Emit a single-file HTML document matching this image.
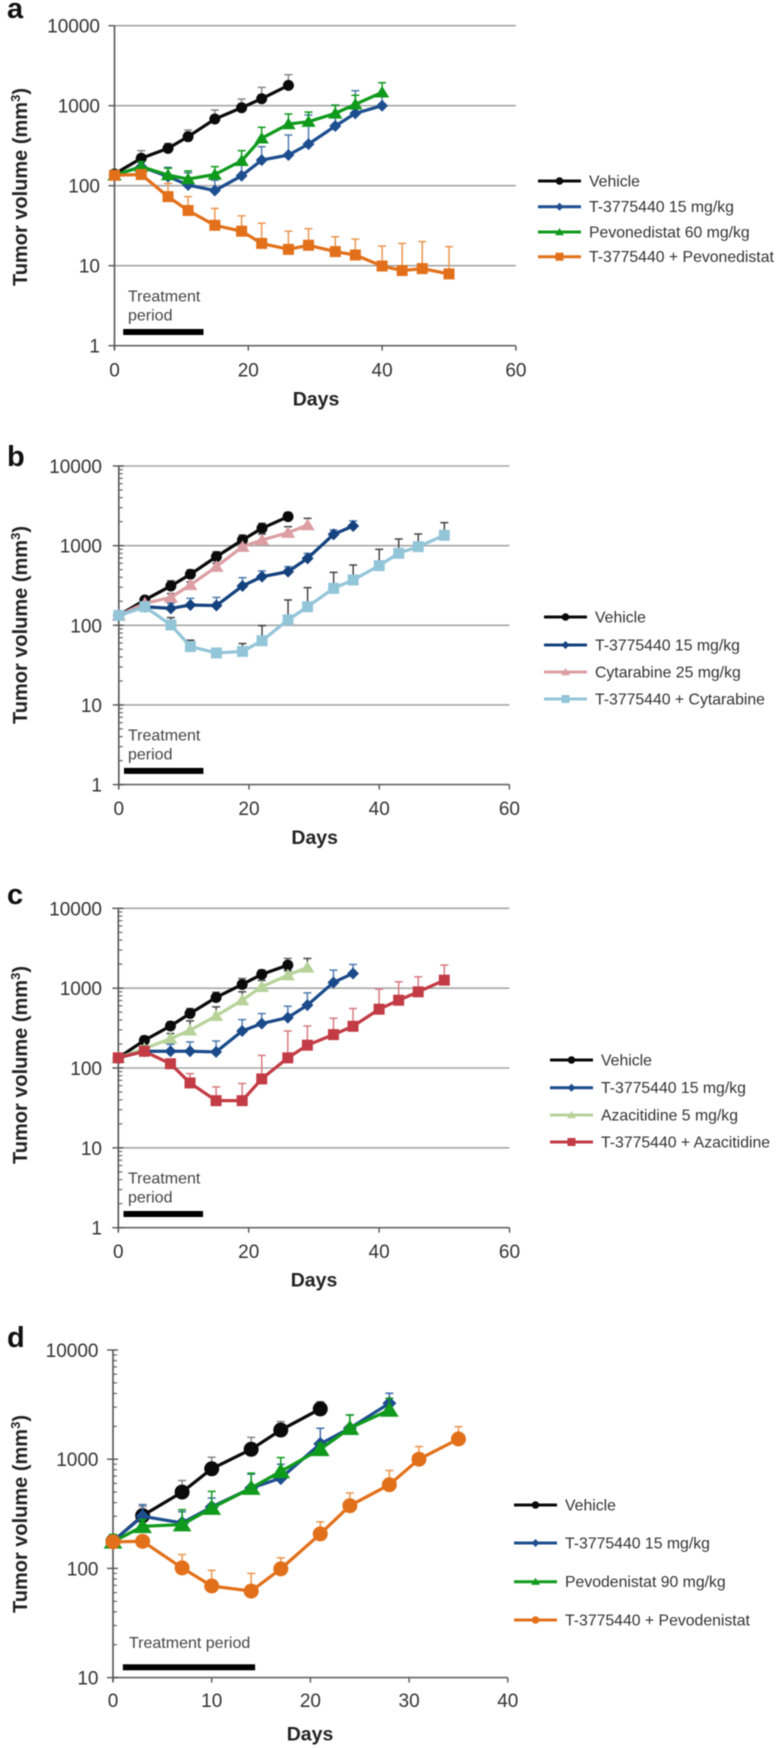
<!DOCTYPE html>
<html lang="en">
<head>
<meta charset="utf-8">
<title>Tumor volume charts</title>
<style>
html,body{margin:0;padding:0;background:#fff;}
#figure{display:block;width:777px;height:1748px;filter:blur(0.55px);font-family:"Liberation Sans",Arial,sans-serif;}
</style>
</head>
<body>
<svg id="figure" xmlns="http://www.w3.org/2000/svg" width="777" height="1748" viewBox="0 0 777 1748"></svg>
<script>
// Panel a data
const daysA = [0,4,8,11,15,19,22,26,29,33,36,40,43,46,50];
const vehicleA = [140,220,293,410,681,944,1223,1795];
const vehicleErrA = [null,274,338,496,883,1211,1694,2441];
const t37A = [135,173,130,102,87,133,209,242,331,557,802,1000];
const t37ErrA = [null,null,170,145,117,209,307,430,764,1019,1540,1300];
const pevoA = [135,173,136,121,138,205,391,590,631,802,1040,1468];
const pevoErrA = [null,200,165,153,173,274,537,787,832,1010,1350,1939];
const comboA = [135,138,73,49,32,27,19,16,18,15,13.6,9.9,8.7,9.2,7.9];
const comboErrA = [null,null,107,73,52,42,34,27,29,23,21.5,17.6,19,20,17.3];

// Panel b data
const daysB = [0,4,8,11,15,19,22,26,29,33,36,40,43,46,50];
const vehicleB = [133,208,312,437,728,1178,1652,2312];
const vehicleErrB = [null,225,363,496,840,1362,1905,2594];
const cytaB = [133,189,224,321,545,970,1178,1455,1816];
const cytaErrB = [null,null,250,350,600,1050,1400,1730,2203];
const t37B = [133,171,163,180,177,312,408,472,693,1387,1766];
const t37ErrB = [null,null,189,218,224,396,481,545,800,1575,2042];
const comboB = [133,171,101,54,45,47,64,117,171,291,371,561,802,971,1349];
const comboErrB = [null,null,125,65,50,59,99,208,297,462,571,899,1212,1400,1944];

// Panel c data
const daysC = [0,4,8,11,15,19,22,26,29,33,36,40,43,46,50];
const vehicleC = [134,222,336,481,764,1112,1486,1945];
const vehicleErrC = [null,250,377,556,890,1320,1683,2355];
const azaC = [134,175,233,297,450,706,1040,1455,1816];
const azaErrC = [null,null,270,389,583,900,1250,1650,2355];
const t37C = [134,162,162,162,159,291,360,428,612,1178,1528];
const t37ErrC = [null,null,198,212,218,404,481,594,873,1683,1982];
const comboC = [134,162,113,65,39,39,73,134,193,262,333,545,706,899,1259];
const comboErrC = [null,null,null,85,58,64,144,291,336,420,556,971,1203,1387,1945];

// Panel d data
const daysD = [0,3,7,10,14,17,21,24,28,31,35];
const vehicleD = [177,304,500,817,1233,1849,2886];
const vehicleErrD = [null,370,638,1042,1585,2213,3365];
const t37D = [177,300,261,365,544,671,1381,1923,3251];
const t37ErrD = [null,384,330,441,730,900,1919,2541,4018];
const pevoD = [175,243,252,357,544,773,1233,1923,2825];
const pevoErrD = [205,280,345,507,745,1035,1400,2541,3614];
const comboD = [175,177,101,69,62,99,207,375,584,1000,1531];
const comboErrD = [null,null,134,96,90,125,267,490,788,1306,1985];

// Tick labels
const xTicks60 = [0,20,40,60];
const xTicks40 = [0,10,20,30,40];
const yTicks4 = [1,10,100,1000,10000];
const yTicks3 = [10,100,1000,10000];

// Legend labels
const legendA = ["Vehicle","T-3775440 15 mg/kg","Pevonedistat 60 mg/kg","T-3775440 + Pevonedistat"];
const legendB = ["Vehicle","T-3775440 15 mg/kg","Cytarabine 25 mg/kg","T-3775440 + Cytarabine"];
const legendC = ["Vehicle","T-3775440 15 mg/kg","Azacitidine 5 mg/kg","T-3775440 + Azacitidine"];
const legendD = ["Vehicle","T-3775440 15 mg/kg","Pevodenistat 90 mg/kg","T-3775440 + Pevodenistat"];

const NS = "http://www.w3.org/2000/svg";
const root = document.getElementById("figure");

function mk(parent, tag, attrs, text) {
  const el = document.createElementNS(NS, tag);
  for (const k in attrs) el.setAttribute(k, attrs[k]);
  if (text !== undefined) el.textContent = text;
  parent.appendChild(el);
  return el;
}

function drawMarker(parent, type, cx, cy, s, color) {
  let el;
  if (type === "circle") {
    el = mk(parent, "circle", {cx: cx, cy: cy, r: s, fill: color});
  } else if (type === "square") {
    el = mk(parent, "rect", {x: cx - s, y: cy - s, width: 2 * s, height: 2 * s, fill: color});
  } else if (type === "diamond") {
    el = mk(parent, "polygon", {points: [cx, cy - s, cx + s, cy, cx, cy + s, cx - s, cy].join(","), fill: color});
  } else {
    el = mk(parent, "polygon", {points: [cx, cy - s, cx + s * 1.1, cy + s * 0.8, cx - s * 1.1, cy + s * 0.8].join(","), fill: color});
  }
  return el;
}

function drawPanel(p) {
  const g = mk(root, "g", {});
  
  

  const xScale = d => p.x0 + d * p.pxPerDay;
  const yScale = v => p.yTop + (Math.log10(p.yMax) - Math.log10(v)) * p.pxPerDecade;
  const axisY = yScale(p.yTicks[0]);
  const xEnd = xScale(p.xTicks[p.xTicks.length - 1]);

  const letter = mk(g, "text", {x: p.letterX, y: p.letterY, "font-size": 29, "font-weight": "bold", fill: "#111"}, p.id);
  
  

  // gridlines
  if (p.grid) {
    p.yTicks.slice(1).forEach(v => {
      const line = mk(g, "line", {x1: p.x0, x2: xEnd, y1: yScale(v), y2: yScale(v), stroke: "#a6a6a6", "stroke-width": 1.6});
      
      
    });
  }

  // minor ticks
  if (p.minor) {
    for (let i = 0; i < p.yTicks.length - 1; i++) {
      for (let m = 2; m <= 9; m++) {
        const v = p.yTicks[i] * m;
        const tick = mk(g, "line", {x1: p.x0, x2: p.x0 + 4, y1: yScale(v), y2: yScale(v), stroke: "#666", "stroke-width": 1.2});
        
        
      }
    }
  }

  // axes
  const yAxis = mk(g, "line", {x1: p.x0, x2: p.x0, y1: p.yTop, y2: axisY + 4, stroke: "#555", "stroke-width": 1.6});
  
  
  const xAxis = mk(g, "line", {x1: p.x0, x2: xEnd, y1: axisY, y2: axisY, stroke: "#666", "stroke-width": 1.6});
  
  

  p.yTicks.forEach(v => {
    const tick = mk(g, "line", {x1: p.x0 - 6, x2: p.x0 + (p.minor ? 5 : 0), y1: yScale(v), y2: yScale(v), stroke: "#555", "stroke-width": 1.4});
    
    
    const label = mk(g, "text", {x: p.yLabelX, y: yScale(v) + 7, "text-anchor": "end", "font-size": 19, fill: "#333"}, String(v));
    
    
  });
  p.xTicks.forEach(v => {
    const tick = mk(g, "line", {x1: xScale(v), x2: xScale(v), y1: axisY, y2: axisY + 5, stroke: "#555", "stroke-width": 1.4});
    
    
    const label = mk(g, "text", {x: xScale(v), y: axisY + p.xLabelDy, "text-anchor": "middle", "font-size": 19, fill: "#333"}, String(v));
    
    
  });

  // axis titles
  const xTitle = mk(g, "text", {x: p.xTitleX, y: axisY + p.xTitleDy, "text-anchor": "middle", "font-size": 19.5, "font-weight": "bold", fill: "#222"}, "Days");
  
  
  const yTitle = mk(g, "text", {transform: "translate(27," + p.yTitleY + ") rotate(-90)", "text-anchor": "middle", "font-size": 20, "font-weight": "bold", fill: "#222"}, "Tumor volume (mm");
  
  
  mk(yTitle, "tspan", {dy: -7, "font-size": 13}, "3");
  mk(yTitle, "tspan", {dy: 7}, ")");

  // treatment annotation
  p.treatLines.forEach((t, i) => {
    const label = mk(g, "text", {x: p.treatX, y: axisY + p.treatDy[i], "font-size": 16, fill: "#444"}, t);
    
    
  });
  const bar = mk(g, "rect", {x: xScale(p.treatStart), y: axisY - p.treatBarUp - 3, width: xScale(p.treatEnd) - xScale(p.treatStart), height: 6, fill: "#000"});
  
  

  // series
  p.series.forEach(s => {
    const sg = mk(g, "g", {});
    
    
    s.err.forEach((e, i) => {
      if (e === null || i >= s.values.length) return;
      const cx = xScale(p.days[i]);
      const stem = mk(sg, "line", {x1: cx, x2: cx, y1: yScale(s.values[i]), y2: yScale(e), stroke: s.errColor, "stroke-width": 1.5});
      
      
      const cap = mk(sg, "line", {x1: cx - 4, x2: cx + 4, y1: yScale(e), y2: yScale(e), stroke: s.errColor, "stroke-width": 1.5});
      
      
    });
    const pts = s.values.map((v, i) => xScale(p.days[i]) + "," + yScale(v)).join(" ");
    const line = mk(sg, "polyline", {points: pts, fill: "none", stroke: s.color, "stroke-width": 3.2, "stroke-linejoin": "round"});
    
    
    s.values.forEach((v, i) => {
      const m = drawMarker(sg, s.marker, xScale(p.days[i]), yScale(v), s.size, s.color);
      
      
    });
  });

  // legend
  const lg = mk(g, "g", {});
  
  
  p.series.forEach(s => {
    const y = p.legendY[s.legendRow];
    const entry = mk(lg, "g", {});
    
    
    mk(entry, "line", {x1: p.legendX, x2: p.legendX + 43, y1: y, y2: y, stroke: s.color, "stroke-width": 3});
    drawMarker(entry, s.marker, p.legendX + 21.5, y, s.marker === "circle" ? 3.8 : 4, s.color);
    mk(entry, "text", {x: p.legendX + 51, y: y + 5.5, "font-size": 15.8, fill: "#333"}, p.legend[s.legendRow]);
  });
}

const BLACK = "#0a0a0a";
const BLUE = "#1d4e8f";
const GREEN = "#109a1c";
const ORANGE = "#e2701a";

drawPanel({
  id: "a", letterX: 7, letterY: 18, x0: 114.5, pxPerDay: 6.69, yTop: 25.7, yMax: 10000, pxPerDecade: 80,
  xTicks: xTicks60, yTicks: yTicks4, grid: true, minor: false, yLabelX: 100, xLabelDy: 31, xTitleX: 316, xTitleDy: 60,
  yTitleY: 187, treatLines: ["Treatment", "period"], treatX: 128, treatDy: [-44, -25], treatStart: 1.3, treatEnd: 13.3, treatBarUp: 13.7,
  days: daysA, legend: legendA, legendX: 538, legendY: [181, 206.7, 232, 256.7],
  series: [
    {key: "vehicle", legendRow: 0, values: vehicleA, err: vehicleErrA, color: BLACK, errColor: "#888", marker: "circle", size: 5.5},
    {key: "t-3775440", legendRow: 1, values: t37A, err: t37ErrA, color: BLUE, errColor: "#4f7cb0", marker: "diamond", size: 6},
    {key: "pevonedistat", legendRow: 2, values: pevoA, err: pevoErrA, color: GREEN, errColor: GREEN, marker: "triangle", size: 6.5},
    {key: "combination", legendRow: 3, values: comboA, err: comboErrA, color: ORANGE, errColor: "#ea9650", marker: "square", size: 5.5}
  ]
});

drawPanel({
  id: "b", letterX: 7, letterY: 466, x0: 118.8, pxPerDay: 6.51, yTop: 466, yMax: 10000, pxPerDecade: 79.65,
  xTicks: xTicks60, yTicks: yTicks4, grid: true, minor: true, yLabelX: 102, xLabelDy: 30.4, xTitleX: 314.7, xTitleDy: 59.4,
  yTitleY: 625, treatLines: ["Treatment", "period"], treatX: 128, treatDy: [-44, -25], treatStart: 0.8, treatEnd: 13, treatBarUp: 13.7,
  days: daysB, legend: legendB, legendX: 544, legendY: [617, 645, 672, 699],
  series: [
    {key: "vehicle", legendRow: 0, values: vehicleB, err: vehicleErrB, color: BLACK, errColor: "#666", marker: "circle", size: 5.5},
    {key: "cytarabine", legendRow: 2, values: cytaB, err: cytaErrB, color: "#dc9ea2", errColor: "#444", marker: "triangle", size: 6.5},
    {key: "t-3775440", legendRow: 1, values: t37B, err: t37ErrB, color: "#14427f", errColor: "#4f7cb0", marker: "diamond", size: 6},
    {key: "combination", legendRow: 3, values: comboB, err: comboErrB, color: "#93c5d9", errColor: "#444", marker: "square", size: 5.5}
  ]
});

drawPanel({
  id: "c", letterX: 7, letterY: 904, x0: 118.3, pxPerDay: 6.52, yTop: 908.3, yMax: 10000, pxPerDecade: 79.85,
  xTicks: xTicks60, yTicks: yTicks4, grid: true, minor: true, yLabelX: 102, xLabelDy: 30.4, xTitleX: 314, xTitleDy: 59,
  yTitleY: 1065, treatLines: ["Treatment", "period"], treatX: 128, treatDy: [-44, -25], treatStart: 0.8, treatEnd: 13, treatBarUp: 13.7,
  days: daysC, legend: legendC, legendX: 550, legendY: [1060, 1087.7, 1115, 1142],
  series: [
    {key: "vehicle", legendRow: 0, values: vehicleC, err: vehicleErrC, color: BLACK, errColor: "#666", marker: "circle", size: 5.5},
    {key: "azacitidine", legendRow: 2, values: azaC, err: azaErrC, color: "#b7d39a", errColor: "#444", marker: "triangle", size: 6.5},
    {key: "t-3775440", legendRow: 1, values: t37C, err: t37ErrC, color: "#1a4a8a", errColor: "#4f7cb0", marker: "diamond", size: 6},
    {key: "combination", legendRow: 3, values: comboC, err: comboErrC, color: "#c23b45", errColor: "#d77a80", marker: "square", size: 5.5}
  ]
});

drawPanel({
  id: "d", letterX: 7, letterY: 1347, x0: 113, pxPerDay: 9.87, yTop: 1350, yMax: 10000, pxPerDecade: 109.2,
  xTicks: xTicks40, yTicks: yTicks3, grid: false, minor: true, yLabelX: 98.5, xLabelDy: 29.5, xTitleX: 310, xTitleDy: 63,
  yTitleY: 1514, treatLines: ["Treatment period"], treatX: 129, treatDy: [-29.6], treatStart: 1, treatEnd: 14.4, treatBarUp: 10.3,
  days: daysD, legend: legendD, legendX: 514, legendY: [1505, 1543, 1581.7, 1620],
  series: [
    {key: "vehicle", legendRow: 0, values: vehicleD, err: vehicleErrD, color: BLACK, errColor: "#888", marker: "circle", size: 7.5},
    {key: "t-3775440", legendRow: 1, values: t37D, err: t37ErrD, color: BLUE, errColor: "#3d6ca8", marker: "diamond", size: 7},
    {key: "pevodenistat", legendRow: 2, values: pevoD, err: pevoErrD, color: GREEN, errColor: GREEN, marker: "triangle", size: 8.5},
    {key: "combination", legendRow: 3, values: comboD, err: comboErrD, color: ORANGE, errColor: "#ea9650", marker: "circle", size: 7.5}
  ]
});
</script>
</body>
</html>
